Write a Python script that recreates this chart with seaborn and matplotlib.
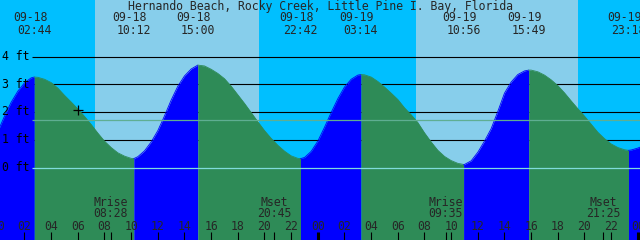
import numpy as np
import pandas as pd
import matplotlib
matplotlib.use("Agg")
import matplotlib.pyplot as plt
import seaborn as sns

# ---------------- data ----------------
title = "Hernando Beach, Rocky Creek, Little Pine I. Bay, Florida"

# tide extremes (high/low) shown at the top of the chart
event_dates = ["09-18", "09-18", "09-18", "09-18", "09-19", "09-19", "09-19", "09-19"]
event_times = ["02:44", "10:12", "15:00", "22:42", "03:14", "10:56", "15:49", "23:18"]
event_ft = [3.26, 0.32, 3.69, 0.32, 3.35, 0.11, 3.51, 0.62]

# tide height, every half hour from 09-18 00:00
tide_hours = [i * 0.5 for i in range(97)]
tide_ft = [1.30, 1.85, 2.35, 2.75, 3.05, 3.23, 3.25, 3.18, 3.06, 2.86,
           2.60, 2.36, 2.11, 1.84, 1.55, 1.24, 0.95, 0.72, 0.53, 0.41,
           0.33, 0.39, 0.60, 0.92, 1.33, 1.86, 2.43, 2.93, 3.30, 3.55,
           3.69, 3.66, 3.54, 3.39, 3.20, 2.93, 2.62, 2.31, 1.98, 1.65,
           1.33, 1.05, 0.80, 0.59, 0.42, 0.33, 0.36, 0.58, 0.95, 1.45,
           1.98, 2.48, 2.90, 3.18, 3.33, 3.34, 3.26, 3.10, 2.90, 2.68,
           2.45, 2.15, 1.90, 1.62, 1.25, 0.92, 0.62, 0.40, 0.25, 0.15,
           0.11, 0.24, 0.55, 0.95, 1.40, 2.02, 2.68, 3.08, 3.35, 3.48,
           3.51, 3.45, 3.33, 3.16, 2.95, 2.69, 2.40, 2.12, 1.85, 1.56,
           1.27, 1.04, 0.85, 0.72, 0.64, 0.63, 0.70]
edge_hour = [48.2]
edge_ft = [0.74]

# moon events
moon_labels = ["Mrise", "Mset", "Mrise", "Mset"]
moon_dates = ["09-18", "09-18", "09-19", "09-19"]
moon_times = ["08:28", "20:45", "09:35", "21:25"]

# sun (day/night background)
sunrise_dates = ["09-18", "09-19"]
sunrise_times = ["07:17", "07:22"]
sunset_dates = ["09-18", "09-19"]
sunset_times = ["19:35", "19:31"]

ft_levels = [0, 1, 2, 3, 4]
mean_level_ft = 1.70
now_hour, now_ft = 6.04, 2.09
hour_ticks = list(range(0, 50, 2))

# ---------------- helpers ----------------
day0 = {"09-18": 0, "09-19": 24}


def to_hours(date, t):
    hh, mm = t.split(":")
    return day0[date] + int(hh) + int(mm) / 60.0


PX_PER_H = 13.333
PX_PER_FT = 27.75


def X(px):
    return (px + 2.17) / PX_PER_H


def Y(py):
    return (167.5 - py) / PX_PER_FT


def px_of(h):
    return h * PX_PER_H - 2.17


night_c = "#00BFFF"
day_c = "#87CEEB"
rise_c = "#0000FF"
fall_c = "#2E8B57"
datum_c = "#7fdcdc"
mean_c = "#5fae92"

sns.set_style("white")
plt.rcParams["font.family"] = ["DejaVu Sans Mono", "DejaVu Sans"]
FS = 8.3

event_h = [to_hours(d, t) for d, t in zip(event_dates, event_times)]
df = pd.DataFrame({
    "h": tide_hours + event_h + edge_hour,
    "ft": tide_ft + event_ft + edge_ft,
}).sort_values("h").reset_index(drop=True)

fig = plt.figure(figsize=(6.4, 2.4), dpi=100)
ax = fig.add_axes([0, 0, 1, 1])
x0, x1 = X(0), X(640)
y0, y1 = Y(240), Y(0)

# background day/night
ax.axvspan(x0, x1, color=night_c, lw=0, zorder=0)
for rd, rt, sd, st in zip(sunrise_dates, sunrise_times, sunset_dates, sunset_times):
    ax.axvspan(to_hours(rd, rt), to_hours(sd, st), color=day_c, lw=0, zorder=0.5)

# ft grid lines (under the tide)
for lv in ft_levels:
    if lv != 0:
        ax.hlines(lv, X(32), x1, color="black", lw=0.8, zorder=1)
    ax.text(X(2), Y(56.5 + (4 - lv) * PX_PER_FT + 3.3), f"{lv} ft", fontsize=FS,
            ha="left", va="baseline", color="black", zorder=5)

# tide fill, rising blue / falling green
bounds = [x0 - 0.5] + event_h + [x1 + 0.5]
for i in range(len(bounds) - 1):
    a, b = bounds[i], bounds[i + 1]
    seg = df[(df.h >= a) & (df.h <= b)]
    if i == 0:
        rising = True
    elif i < len(event_ft):
        rising = event_ft[i - 1] < event_ft[i]
    else:
        rising = event_ft[-1] < event_ft[-2]
    c = rise_c if rising else fall_c
    ax.fill_between(seg.h, seg.ft, y0 - 1, color=c, lw=0, zorder=2)
    sns.lineplot(data=seg, x="h", y="ft", color=c, lw=0.6, ax=ax, zorder=2.2,
                 sort=False, legend=False)
ax.set_xlim(x0, x1)
ax.set_ylim(y0, y1)
ax.axis("off")

# datum and mean lines (over the tide)
ax.hlines(0, X(32), x1, color=datum_c, lw=0.9, zorder=3)
ax.hlines(mean_level_ft, X(32), x1, color=mean_c, lw=0.9, zorder=3)

# current-time marker
ax.plot([now_hour], [now_ft], marker="+", ms=6.5, mew=0.9, color="black", zorder=4)

# title
ax.text(X(320), Y(10), title, fontsize=FS, ha="center", va="baseline", zorder=5)

# tide event labels
for d, t, h in zip(event_dates, event_times, event_h):
    p = px_of(h)
    ax.text(X(p - 4), Y(21.3), d, fontsize=FS, ha="center", va="baseline", zorder=5)
    ax.text(X(p), Y(34.3), t, fontsize=FS, ha="center", va="baseline", zorder=5)

# hour ticks and labels
for h in hour_ticks:
    lw = 2.2 if h % 24 == 0 else 0.8
    ax.vlines(h, y0, Y(232), color="black", lw=lw, zorder=5)
    ax.text(h, Y(230.3), f"{h % 24:02d}", fontsize=FS, ha="center", va="baseline", zorder=5)

# moon events
for lab, d, t in zip(moon_labels, moon_dates, moon_times):
    h = to_hours(d, t)
    ax.vlines(h, y0, Y(232), color="black", lw=0.8, zorder=5)
    ax.text(h, Y(205.8), lab, fontsize=FS, ha="center", va="baseline", zorder=5)
    ax.text(h, Y(217.3), t, fontsize=FS, ha="center", va="baseline", zorder=5)

fig.savefig("out.png", dpi=100)
